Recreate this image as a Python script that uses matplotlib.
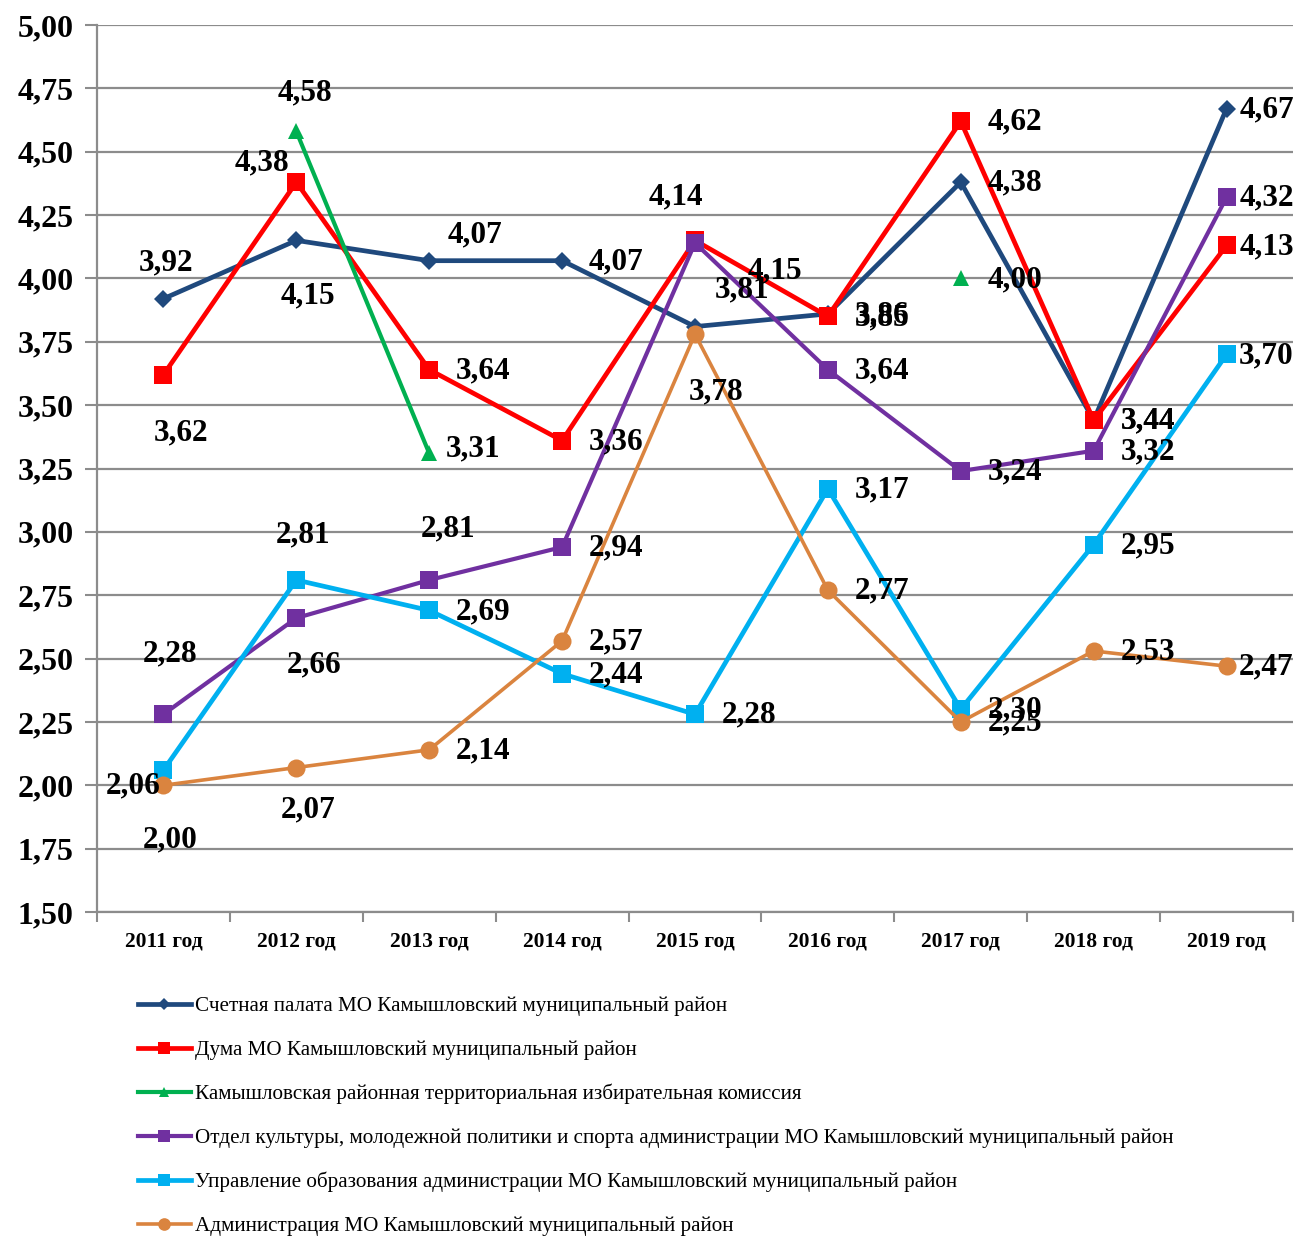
import numpy as np
import matplotlib
matplotlib.use("Agg")
import matplotlib.pyplot as plt
from matplotlib.ticker import FixedLocator, FuncFormatter

years = ["2011 год", "2012 год", "2013 год", "2014 год", "2015 год",
         "2016 год", "2017 год", "2018 год", "2019 год"]

names = [
    "Счетная палата МО Камышловский муниципальный район",
    "Дума МО Камышловский муниципальный район",
    "Камышловская районная территориальная избирательная комиссия",
    "Отдел культуры, молодежной политики и спорта администрации МО Камышловский муниципальный район",
    "Управление образования администрации МО Камышловский муниципальный район",
    "Администрация МО Камышловский муниципальный район",
]

schet = [3.92, 4.15, 4.07, 4.07, 3.81, 3.86, 4.38, 3.44, 4.67]
duma = [3.62, 4.38, 3.64, 3.36, 4.15, 3.85, 4.62, 3.44, 4.13]
tik = [np.nan, 4.58, 3.31, np.nan, np.nan, np.nan, 4.00, np.nan, np.nan]
kultura = [2.28, 2.66, 2.81, 2.94, 4.14, 3.64, 3.24, 3.32, 4.32]
obraz = [2.06, 2.81, 2.69, 2.44, 2.28, 3.17, 2.30, 2.95, 3.70]
admin = [2.00, 2.07, 2.14, 2.57, 3.78, 2.77, 2.25, 2.53, 2.47]

series = [schet, duma, tik, kultura, obraz, admin]

colors = ["#1F497D", "#FF0000", "#00B050", "#7030A0", "#00B0F0", "#DA843F"]
markers = ["D", "s", "^", "s", "s", "o"]
msizes = [9, 13, 11, 13, 13, 13]
lws = [3.4, 3.4, 3.0, 3.0, 3.4, 2.6]

# label offsets in pixels (dx, dy) relative to the point, text centred
R = (54, -1)
E = (40, -1)
offsets = [
    [(3, 36), (12, -55), (46, 26), R, (47, 37), R, R, R, E],
    [(18, -58), (-34, 19), R, R, (80, -30), R, R, R, E],
    [None, (9, 39), (44, 4), None, None, None, R, None, None],
    [(7, 60), (18, -47), (19, 51), R, (-19, 46), R, R, R, E],
    [(-30, -16), (7, 45), R, R, R, R, R, R, E],
    [(7, -55), (12, -42), R, R, (21, -58), R, R, R, E],
]

serif = ["Liberation Serif", "DejaVu Serif"]
plt.rcParams["font.family"] = serif

fig = plt.figure(figsize=(12.96, 12.38), dpi=100)
ax = fig.add_axes([97 / 1296, 1 - 912 / 1238, 1196 / 1296, (912 - 25) / 1238])

x = np.arange(len(years))
handles = []
for vals, c, m, ms, lw, name in zip(series, colors, markers, msizes, lws, names):
    h, = ax.plot(x, vals, color=c, marker=m, markersize=ms, lw=lw,
                 markeredgewidth=0, label=name, zorder=3, clip_on=False)
    handles.append(h)

for vals, offs in zip(series, offsets):
    for i, v in enumerate(vals):
        if np.isnan(v) or offs[i] is None:
            continue
        ax.annotate(f"{v:.2f}".replace(".", ","), (x[i], v),
                    xytext=offs[i], textcoords="offset pixels",
                    ha="center", va="center", fontsize=22.5, fontweight="bold",
                    color="black", zorder=5)

ax.set_xlim(-0.5, len(years) - 0.5)
ax.set_ylim(1.5, 5.0)
yt = np.arange(1.5, 5.01, 0.25)
ax.yaxis.set_major_locator(FixedLocator(yt))
ax.yaxis.set_major_formatter(FuncFormatter(lambda v, p: f"{v:.2f}".replace(".", ",")))
ax.grid(axis="y", color="#8c8c8c", lw=1.6, zorder=0)
ax.set_axisbelow(True)

ax.set_xticks(x)
ax.set_xticklabels(years, fontsize=15.5, fontweight="bold")
ax.set_xticks(np.arange(-0.5, len(years)), minor=True)
ax.tick_params(axis="x", which="major", length=0, pad=14)
ax.tick_params(axis="x", which="minor", length=7, width=1.5, color="#8c8c8c", direction="out")
ax.tick_params(axis="y", which="major", length=9, width=1.5, color="#8c8c8c",
               labelsize=23, pad=8)
for lab in ax.get_yticklabels():
    lab.set_fontweight("bold")

for s in ["top", "right"]:
    ax.spines[s].set_visible(False)
for s in ["left", "bottom"]:
    ax.spines[s].set_color("#8c8c8c")
    ax.spines[s].set_linewidth(1.6)

leg = fig.legend(handles=handles, loc="upper left",
                 bbox_to_anchor=(127 / 1296, 1 - 986 / 1238),
                 frameon=False, fontsize=15.2, handlelength=2.55,
                 handletextpad=0.15, labelspacing=1.13, borderpad=0,
                 markerscale=0.7)

fig.savefig("out.png", dpi=100)
